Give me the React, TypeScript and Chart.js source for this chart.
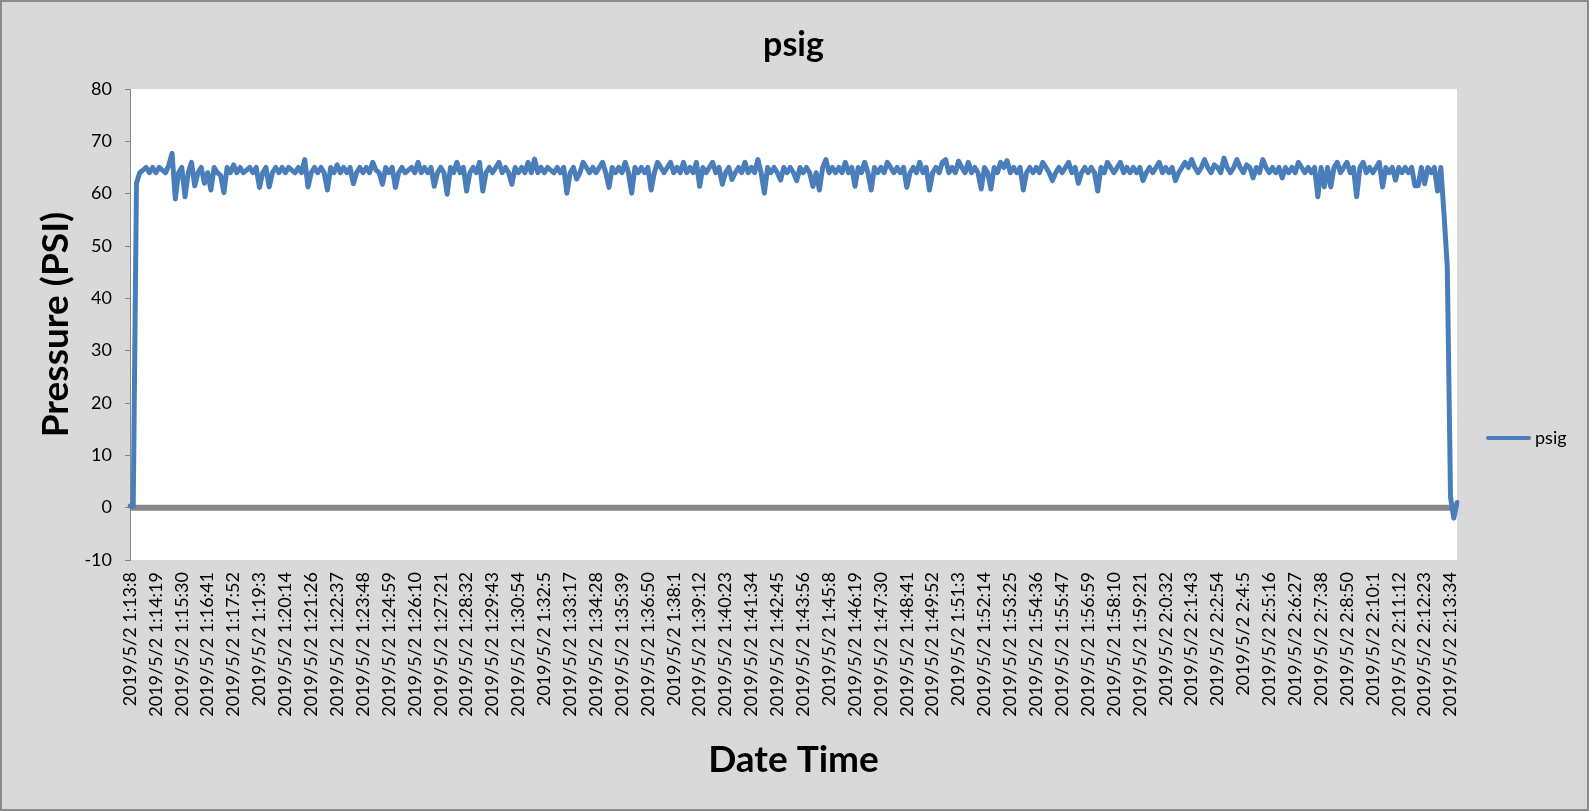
import React, { useEffect, useRef } from 'react';
import { Chart, registerables } from 'chart.js';

Chart.register(...registerables);

// Tick labels shown on the category axis (one every POINTS_PER_TICK samples)
const TICK_LABELS: string[] = [
  '2019/5/2 1:13:8', '2019/5/2 1:14:19', '2019/5/2 1:15:30', '2019/5/2 1:16:41', '2019/5/2 1:17:52',
  '2019/5/2 1:19:3', '2019/5/2 1:20:14', '2019/5/2 1:21:26', '2019/5/2 1:22:37', '2019/5/2 1:23:48',
  '2019/5/2 1:24:59', '2019/5/2 1:26:10', '2019/5/2 1:27:21', '2019/5/2 1:28:32', '2019/5/2 1:29:43',
  '2019/5/2 1:30:54', '2019/5/2 1:32:5', '2019/5/2 1:33:17', '2019/5/2 1:34:28', '2019/5/2 1:35:39',
  '2019/5/2 1:36:50', '2019/5/2 1:38:1', '2019/5/2 1:39:12', '2019/5/2 1:40:23', '2019/5/2 1:41:34',
  '2019/5/2 1:42:45', '2019/5/2 1:43:56', '2019/5/2 1:45:8', '2019/5/2 1:46:19', '2019/5/2 1:47:30',
  '2019/5/2 1:48:41', '2019/5/2 1:49:52', '2019/5/2 1:51:3', '2019/5/2 1:52:14', '2019/5/2 1:53:25',
  '2019/5/2 1:54:36', '2019/5/2 1:55:47', '2019/5/2 1:56:59', '2019/5/2 1:58:10', '2019/5/2 1:59:21',
  '2019/5/2 2:0:32', '2019/5/2 2:1:43', '2019/5/2 2:2:54', '2019/5/2 2:4:5', '2019/5/2 2:5:16',
  '2019/5/2 2:6:27', '2019/5/2 2:7:38', '2019/5/2 2:8:50', '2019/5/2 2:10:1', '2019/5/2 2:11:12',
  '2019/5/2 2:12:23', '2019/5/2 2:13:34',
];

const POINTS_PER_TICK = 8;

// psig readings, 8 samples per labelled interval
const PSIG: number[] = [
  0.3, 0.3, 62, 64, 64.5, 65, 64, 65,
  64, 65, 64.5, 64, 65.5, 67.7, 59, 64,
  65, 59.4, 64, 66, 61.5, 64, 65, 62,
  64, 60.7, 65, 64, 63.5, 60.2, 65, 64,
  65.5, 64, 65, 64, 64.5, 65, 64, 65,
  61.2, 64, 65, 61.3, 64, 65, 64, 65,
  64, 65, 64.5, 64, 65, 64, 66.5, 61.3,
  64, 65, 64, 65, 64, 60.7, 65, 64,
  65.5, 64, 65, 64, 65, 61.9, 64, 65,
  64, 65, 64, 66, 64.5, 64, 61.8, 65,
  64, 65, 61.2, 64, 65, 64, 64.5, 65,
  64, 66, 64, 65, 64, 65, 61.4, 64,
  65, 64, 59.9, 65, 64, 66, 64, 65,
  60.5, 64, 65, 64, 66, 60.5, 64, 65,
  64, 65, 66, 64, 65, 64, 61.8, 65,
  64, 65, 64, 66, 64, 66.6, 64, 65,
  64, 65, 64.5, 64, 65, 64, 65, 60.1,
  64, 65, 62.8, 64, 66, 65, 64, 65,
  64, 65, 66, 64, 61.2, 65, 64, 65,
  64, 66, 64, 60.1, 65, 64, 65, 64,
  65, 60.7, 64, 66, 65, 64, 65, 66,
  64, 65, 64, 66, 64, 65, 64, 66,
  61.4, 65, 64, 65, 66, 64, 65, 61.8,
  64, 65, 62.7, 64, 65, 64, 66, 64,
  65, 64, 66.5, 64, 60.1, 65, 64, 65,
  64, 62.6, 65, 64, 65, 64, 62.5, 65,
  64, 65, 64, 61.4, 64, 60.7, 65, 66.5,
  64, 65, 64, 65, 64, 66, 64, 65,
  61.4, 65, 64, 66, 64, 60.7, 65, 64,
  65, 64, 66, 65, 64, 65, 64, 65,
  61.2, 64, 65, 64, 66, 64, 65, 60.7,
  64, 65, 64, 66, 66.5, 64, 65, 64,
  66.2, 65, 64, 66, 64, 65, 64, 60.9,
  65, 64, 60.9, 65, 64, 66, 65, 66.3,
  64, 65, 64, 65, 60.7, 64, 65, 64,
  65, 64, 66, 65, 64, 62.5, 64, 65,
  64, 65, 66, 64, 65, 62, 64, 65,
  64, 65, 64, 60.5, 65, 64, 66, 65,
  64, 65, 66, 64, 65, 64, 65, 64,
  65, 62.5, 64, 65, 64, 65, 66, 64,
  65, 64, 65, 62.5, 64, 65, 66, 65,
  66.5, 65, 64, 65, 66.5, 65, 64, 65.5,
  65, 64, 66.8, 65, 64, 65, 66.5, 65,
  64, 65.5, 65, 63, 65, 64, 66.5, 65,
  64, 65, 64, 65, 63, 65, 64, 65,
  64, 66, 65, 64, 65, 64, 65, 59.4,
  65, 61.3, 65, 61.3, 65, 66, 64, 65,
  66, 64, 65, 59.4, 65, 66, 64, 65,
  64, 65, 66, 61.3, 65, 64, 65, 62.6,
  65, 64, 65, 64, 65, 61.5, 61.5, 65,
  61.9, 65, 64, 65, 60.5, 65, 56, 46,
  2, -2, 1,
];

const SERIES_NAME = 'psig';
const CHART_TITLE = 'psig';
const Y_TITLE = 'Pressure (PSI)';
const X_TITLE = 'Date Time';
const Y_MIN = -10;
const Y_MAX = 80;
const Y_STEP = 10;

const CATEGORIES: string[] = PSIG.map((_, i) =>
  i % POINTS_PER_TICK === 0 ? TICK_LABELS[i / POINTS_PER_TICK] ?? '' : ''
);

const LINE_COLOR = '#4a7ebb';
const AXIS_GRAY = '#868686';
const FONT = 'Lato, "Open Sans", sans-serif';

const plotBackground = {
  id: 'plotBackground',
  beforeDraw(chart: any) {
    const { ctx, chartArea } = chart;
    ctx.save();
    ctx.fillStyle = '#ffffff';
    ctx.fillRect(chartArea.left, chartArea.top, chartArea.right - chartArea.left, chartArea.bottom - chartArea.top);
    ctx.restore();
  },
};

const zeroAxisLine = {
  id: 'zeroAxisLine',
  beforeDatasetsDraw(chart: any) {
    const { ctx, chartArea, scales } = chart;
    const y = scales.y.getPixelForValue(0);
    ctx.save();
    ctx.strokeStyle = '#878787';
    ctx.lineWidth = 6;
    ctx.beginPath();
    ctx.moveTo(chartArea.left, y);
    ctx.lineTo(chartArea.right, y);
    ctx.stroke();
    ctx.restore();
  },
};

const sideLegend = {
  id: 'sideLegend',
  afterDraw(chart: any) {
    const { ctx, chartArea } = chart;
    const ds = chart.data.datasets[0];
    const x0 = chartArea.right + 31;
    const y = 438;
    ctx.save();
    ctx.strokeStyle = ds.borderColor;
    ctx.lineWidth = 4;
    ctx.lineCap = 'round';
    ctx.beginPath();
    ctx.moveTo(x0, y);
    ctx.lineTo(x0 + 41, y);
    ctx.stroke();
    ctx.fillStyle = '#000000';
    ctx.font = `18px ${FONT}`;
    ctx.textBaseline = 'middle';
    ctx.textAlign = 'left';
    ctx.fillText(ds.label, x0 + 47, y);
    ctx.restore();
  },
};

export default function App() {
  const canvasRef = useRef<HTMLCanvasElement | null>(null);

  useEffect(() => {
    if (!canvasRef.current) return;
    Chart.defaults.font.family = FONT;
    Chart.defaults.color = '#000000';
    const chart = new Chart(canvasRef.current, {
      type: 'line',
      data: {
        labels: CATEGORIES,
        datasets: [
          {
            label: SERIES_NAME,
            data: PSIG,
            borderColor: LINE_COLOR,
            backgroundColor: LINE_COLOR,
            borderWidth: 5,
            pointRadius: 0,
            tension: 0,
            borderJoinStyle: 'round',
            borderCapStyle: 'round',
            fill: false,
          },
        ],
      },
      options: {
        animation: false,
        responsive: false,
        layout: { padding: { left: 0, right: 132, top: 0, bottom: 0 } },
        plugins: {
          legend: { display: false },
          tooltip: { enabled: false },
          title: {
            display: true,
            text: CHART_TITLE,
            fullSize: false,
            color: '#000000',
            font: { family: FONT, size: 34, weight: 'bold', lineHeight: 1.2 },
            padding: { top: 24.6, bottom: 23.6 },
          },
        },
        scales: {
          x: {
            type: 'category',
            offset: false,
            afterFit(scale: any) {
              scale.height = 251;
            },
            grid: { display: false, drawTicks: false },
            border: { display: false },
            ticks: {
              autoSkip: false,
              minRotation: 90,
              maxRotation: 90,
              padding: 12,
              color: '#000000',
              font: { family: FONT, size: 18 },
            },
            title: {
              display: true,
              text: X_TITLE,
              color: '#000000',
              font: { family: FONT, size: 37, weight: 'bold', lineHeight: 1.2 },
              padding: { top: 4, bottom: 28.8 },
            },
          },
          y: {
            min: Y_MIN,
            max: Y_MAX,
            afterFit(scale: any) {
              scale.width = 130;
            },
            grid: {
              display: true,
              drawOnChartArea: false,
              drawTicks: true,
              tickLength: 5,
              color: AXIS_GRAY,
              lineWidth: 1,
            },
            border: { display: true, color: AXIS_GRAY, width: 1 },
            ticks: {
              stepSize: Y_STEP,
              padding: 13,
              color: '#000000',
              font: { family: FONT, size: 18 },
            },
            title: {
              display: true,
              text: Y_TITLE,
              color: '#000000',
              font: { family: FONT, size: 37, weight: 'bold', lineHeight: 1.2 },
              padding: { top: 34, bottom: 4 },
            },
          },
        },
      },
      plugins: [plotBackground, zeroAxisLine, sideLegend],
    } as any);
    return () => chart.destroy();
  }, []);

  return (
    <div
      style={{
        position: 'fixed',
        left: 0,
        top: 0,
        width: 1589,
        height: 811,
        background: '#d9d9d9',
        overflow: 'hidden',
      }}
    >
      <canvas ref={canvasRef} width={1589} height={811} style={{ display: 'block' }} />
      <div
        style={{
          position: 'absolute',
          left: 0,
          top: 0,
          width: 1589,
          height: 811,
          boxSizing: 'border-box',
          border: '2px solid #8a8a8a',
          pointerEvents: 'none',
        }}
      />
    </div>
  );
}
